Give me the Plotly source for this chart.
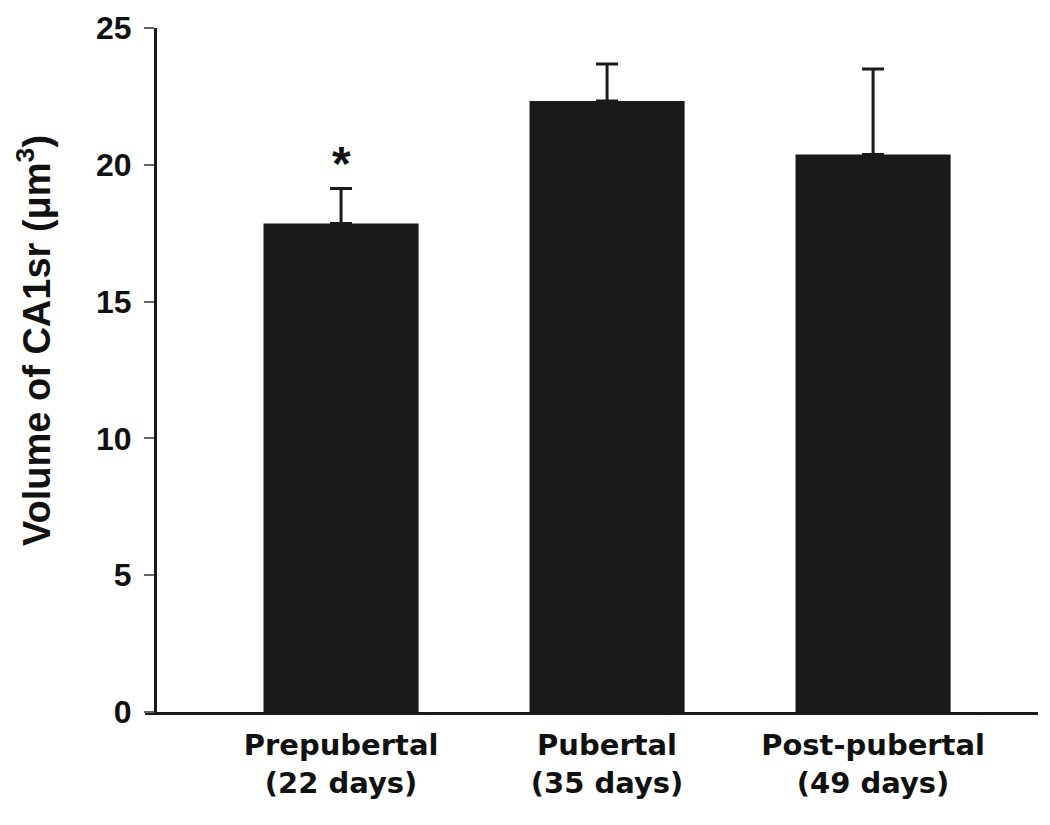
import plotly.graph_objects as go

categories = ["Prepubertal<br>(22 days)", "Pubertal<br>(35 days)", "Post-pubertal<br>(49 days)"]
means = [17.85, 22.33, 20.38]
errors = [1.28, 1.35, 3.12]
significant = [True, False, False]
y_ticks = [0, 5, 10, 15, 20, 25]
y_title = "Volume of CA1sr (μm<sup>3</sup>)"

FONT = "Liberation Sans, Arial, sans-serif"
XFONT = "DejaVu Sans, Liberation Sans, sans-serif"

x_idx = list(range(len(categories)))

fig = go.Figure()
fig.add_trace(go.Bar(
    x=x_idx, y=means, width=0.583,
    marker=dict(color="#1a1a1a", line=dict(width=0)),
    error_y=dict(type="data", array=errors, arrayminus=[0] * len(errors),
                 symmetric=False, color="#1a1a1a", thickness=3, width=11),
    showlegend=False,
))

for i, (m, e, s) in enumerate(zip(means, errors, significant)):
    if s:
        fig.add_annotation(x=i, y=m + e + 0.92, text="<b>*</b>", showarrow=False,
                           font=dict(family=FONT, size=48, color="#111"),
                           xanchor="center", yanchor="middle")

# page body has an 8px margin: compensate
OFF = 8
W, H = 1050 - 2 * OFF, 825 - 2 * OFF
L = 145 - OFF
T = 28 - OFF
R = W - (1038 - OFF)
B = H - (712 - OFF)
pw = W - L - R
ph = H - T - B

fig.add_annotation(
    xref="paper", yref="paper",
    x=(34 - OFF - L) / pw, y=(712 - 341) / ph,
    text=f"<b>{y_title}</b>", textangle=-90, showarrow=False,
    font=dict(size=38, family=FONT, color="#111"),
    xanchor="center", yanchor="middle",
)

fig.update_layout(
    width=W, height=H,
    margin=dict(l=L, r=R, t=T, b=B, autoexpand=False),
    paper_bgcolor="white", plot_bgcolor="white",
    font=dict(family=FONT, color="#111"),
    xaxis=dict(
        range=[-0.737, 2.62],
        tickmode="array", tickvals=x_idx,
        ticktext=[f"<b>{c}</b>" for c in categories],
        tickfont=dict(size=29, family=XFONT, color="#111"),
        showline=True, linecolor="#1a1a1a", linewidth=3,
        ticks="", showgrid=False, zeroline=False,
        ticklabelstandoff=5,
    ),
    yaxis=dict(
        range=[0, 25],
        anchor="free", position=(155 - 145) / pw,
        tickmode="array", tickvals=y_ticks,
        ticktext=[f"<b>{v}</b>" for v in y_ticks],
        tickfont=dict(size=32, family=FONT, color="#111"),
        showline=True, linecolor="#1a1a1a", linewidth=3,
        ticks="outside", ticklen=10, tickwidth=1.5, tickcolor="#666",
        showgrid=False, zeroline=False,
        ticklabelstandoff=6,
    ),
)

fig.write_html("out.html")
